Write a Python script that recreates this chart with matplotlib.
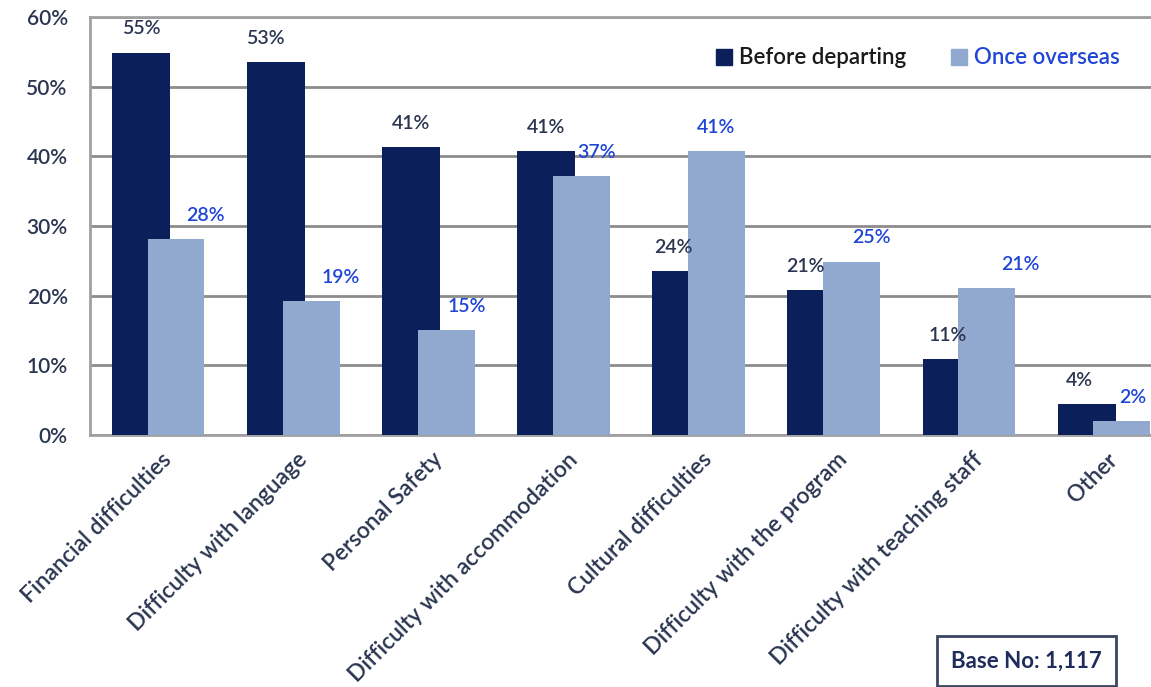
import matplotlib
matplotlib.use("Agg")
import matplotlib.pyplot as plt
from matplotlib.patches import Patch
from matplotlib import font_manager
import numpy as np

categories = ["Financial difficulties", "Difficulty with language", "Personal Safety",
              "Difficulty with accommodation", "Cultural difficulties",
              "Difficulty with the program", "Difficulty with teaching staff", "Other"]
before = [54.9, 53.5, 41.3, 40.8, 23.5, 20.8, 10.9, 4.4]
overseas = [28.1, 19.2, 15.1, 37.2, 40.8, 24.9, 21.1, 2.0]
before_labels = ["55%", "53%", "41%", "41%", "24%", "21%", "11%", "4%"]
overseas_labels = ["28%", "19%", "15%", "37%", "41%", "25%", "21%", "2%"]
yticks = [0, 10, 20, 30, 40, 50, 60]
ytick_labels = ["0%", "10%", "20%", "30%", "40%", "50%", "60%"]
series_names = ["Before departing", "Once overseas"]
base_text = "Base No: 1,117"

before_dx = [0, -11, 0, 0, -8, -11, -4, -7]
overseas_dx = [29, 30, 20, 15, 0, 20, 34, 11]

DARK = "#0b1f5b"
LIGHT = "#91a8cf"
TXT = "#2a3550"
BLUE = "#1f45d6"
GRID = "#8c8c8c"

plt.rcParams['font.family'] = ['Lato', 'DejaVu Sans']
names = sorted({(f.name, f.weight) for f in font_manager.fontManager.ttflist if f.name == 'Lato'})
W = "semibold" if any(w in (500, 600, 'medium', 'semibold', 'demibold') for _, w in names) else "normal"

fig = plt.figure(figsize=(11.51, 6.87), dpi=100)
ax = fig.add_axes([90/1151, 1-435/687, 1-90/1151, (435-17)/687])

x = np.arange(len(categories))
off = 0.13
ax.bar(x - off, before, width=0.43, color=DARK, zorder=3)
ax.bar(x + off, overseas, width=0.42, color=LIGHT, zorder=4)

px = 0.72
for i in range(len(categories)):
    ax.annotate(before_labels[i], (x[i] - off, before[i]), xytext=(before_dx[i]*px, 17),
                textcoords="offset points", ha="center", va="center",
                fontsize=14, color=TXT, fontweight=W, zorder=6)
    ax.annotate(overseas_labels[i], (x[i] + off, overseas[i]), xytext=(overseas_dx[i]*px, 17),
                textcoords="offset points", ha="center", va="center",
                fontsize=14, color=BLUE, fontweight=W, zorder=6)

ax.set_ylim(0, 60)
ax.set_xlim(-0.507, 7.346)
ax.set_yticks(yticks)
ax.set_yticklabels(ytick_labels, fontsize=15, color=TXT, fontweight=W)
ax.yaxis.grid(True, color=GRID, linewidth=2, zorder=0)
ax.set_axisbelow(True)
ax.tick_params(axis='both', length=0)
ax.tick_params(axis='y', pad=16)
ax.set_xticks(x + 0.02)
ax.set_xticklabels(categories, rotation=45, ha="right", va="top",
                   rotation_mode="anchor", fontsize=16.5, color=TXT, fontweight=W)
ax.tick_params(axis='x', pad=10)
for s in ["left", "top", "bottom"]:
    ax.spines[s].set_color("#a0a0a0")
    ax.spines[s].set_linewidth(2)
ax.spines["right"].set_visible(False)

handles = [Patch(color=DARK), Patch(color=LIGHT)]
leg = ax.legend(handles, series_names, loc="upper left", bbox_to_anchor=(0.571, 0.975),
                ncol=2, frameon=False, handlelength=0.75, handleheight=0.75,
                columnspacing=2.0, handletextpad=0.3, prop={'size': 16, 'weight': W})
leg.get_texts()[0].set_color("#1a1a1a")
leg.get_texts()[1].set_color(BLUE)

fig.text((930+1123)/2/1151, 1-661/687, base_text, ha="center", va="center",
         fontsize=16, fontweight="bold", color="#1f2d5c",
         bbox=dict(boxstyle="square,pad=0.65", facecolor="white", edgecolor="#3a4560", linewidth=2))

fig.savefig("out.png", dpi=100)
